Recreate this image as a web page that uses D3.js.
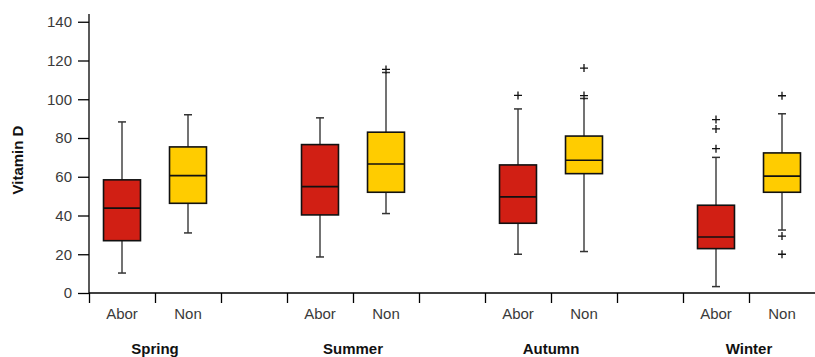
<!DOCTYPE html>
<html>
<head>
<meta charset="utf-8">
<script src="https://cdn.jsdelivr.net/npm/d3@7"></script>
<style>
  body { margin: 0; background: #fff; }
  text { font-family: "Liberation Sans", Arial, sans-serif; }
</style>
</head>
<body>
<svg id="chart"></svg>
<script>
// data
const seasons = ['Spring', 'Summer', 'Autumn', 'Winter'];
const groups = ['Abor', 'Non'];
const whiskerLow  = [10.3, 31, 18.6, 41, 20, 21.4, 3.3, 32.5];
const q1Values    = [27, 46.3, 40.3, 52, 36, 61.6, 22.9, 52];
const medians     = [43.8, 60.6, 54.9, 66.6, 49.6, 68.5, 28.9, 60.3];
const q3Values    = [58.4, 75.4, 76.6, 83, 66.1, 81, 45.3, 72.3];
const whiskerHigh = [88.3, 92, 90.4, 113.8, 95, 100.4, 70, 92.5];
const outliers    = [[], [], [], [115.4], [102], [101.9, 116.1], [74.5, 84.7, 89.5], [101.8, 29.4, 20]];
const yTicks = [0, 20, 40, 60, 80, 100, 120, 140];

const width = 815, height = 357;
const margin = { top: 14, right: 0, bottom: 64, left: 89 };
const colors = { Abor: '#D11F14', Non: '#FFCC00' };

const svg = d3.select('#chart')
    .attr('width', width)
    .attr('height', height);

// 11 slots: two boxes per season and an empty slot between seasons
const nSlots = seasons.length * 3 - 1;
const x = d3.scaleLinear()
    .domain([0, nSlots])
    .range([margin.left, width - margin.right]);

const y = d3.scaleLinear()
    .domain([0, 144])
    .range([height - margin.bottom, margin.top]);

const slotW = x(1) - x(0);
const boxW = slotW * 0.56;
const capW = 8;

// build rows
const rows = [];
seasons.forEach((s, si) => {
    groups.forEach((g, gi) => {
        const i = si * 2 + gi;
        rows.push({
            season: s, group: g, slot: si * 3 + gi,
            lo: whiskerLow[i], q1: q1Values[i], med: medians[i],
            q3: q3Values[i], hi: whiskerHigh[i], out: outliers[i]
        });
    });
});

// y axis
const yAxis = d3.axisLeft(y)
    .tickValues(yTicks)
    .tickSize(11)
    .tickPadding(6);

const yAxisG = svg.append('g')
    .attr('transform', `translate(${margin.left},0)`)
    .call(yAxis);
yAxisG.select('.domain').remove();
yAxisG.selectAll('line').attr('stroke', '#000').attr('stroke-width', 1.3);
yAxisG.selectAll('text')
    .attr('fill', '#3a3a3a')
    .style('font-size', '15px');

svg.append('line')
    .attr('x1', margin.left).attr('x2', margin.left)
    .attr('y1', y(144)).attr('y2', y(0))
    .attr('stroke', '#000').attr('stroke-width', 1.3);

// x axis with ticks at slot boundaries
const xAxis = d3.axisBottom(x)
    .tickValues(d3.range(0, nSlots))
    .tickSize(10)
    .tickFormat('');

const xAxisG = svg.append('g')
    .attr('transform', `translate(0,${y(0)})`)
    .call(xAxis);
xAxisG.select('.domain').attr('d', `M${margin.left},0H${width}`).attr('stroke-width', 1.3);
xAxisG.selectAll('line').attr('stroke', '#000').attr('stroke-width', 1.3);

// group labels
svg.append('g').selectAll('text')
    .data(rows)
    .join('text')
    .attr('x', d => x(d.slot + 0.5))
    .attr('y', y(0) + 26)
    .attr('text-anchor', 'middle')
    .attr('fill', '#3a3a3a')
    .style('font-size', '15px')
    .text(d => d.group);

// season labels, centred between the two boxes
svg.append('g').selectAll('text')
    .data(seasons)
    .join('text')
    .attr('x', (d, i) => x(i * 3 + 1))
    .attr('y', y(0) + 61)
    .attr('text-anchor', 'middle')
    .attr('fill', '#111')
    .style('font-size', '15px')
    .style('font-weight', 'bold')
    .text(d => d);

// y label
svg.append('text')
    .attr('transform', `translate(23,160) rotate(-90)`)
    .attr('text-anchor', 'middle')
    .attr('fill', '#111')
    .style('font-size', '15px')
    .style('font-weight', 'bold')
    .text('Vitamin D');

// boxes
const box = svg.append('g').selectAll('g')
    .data(rows)
    .join('g')
    .attr('transform', d => `translate(${x(d.slot + 0.5)},0)`);

box.append('line')
    .attr('y1', d => y(d.lo)).attr('y2', d => y(d.hi))
    .attr('stroke', '#444').attr('stroke-width', 1.5);

box.selectAll('.cap')
    .data(d => [d.lo, d.hi])
    .join('line')
    .attr('class', 'cap')
    .attr('x1', -capW / 2).attr('x2', capW / 2)
    .attr('y1', v => y(v)).attr('y2', v => y(v))
    .attr('stroke', '#333').attr('stroke-width', 1.5);

box.append('rect')
    .attr('x', -boxW / 2)
    .attr('width', boxW)
    .attr('y', d => y(d.q3))
    .attr('height', d => y(d.q1) - y(d.q3))
    .attr('fill', d => colors[d.group])
    .attr('stroke', '#111')
    .attr('stroke-width', 1.6);

box.append('line')
    .attr('x1', -boxW / 2).attr('x2', boxW / 2)
    .attr('y1', d => y(d.med)).attr('y2', d => y(d.med))
    .attr('stroke', '#111').attr('stroke-width', 1.6);

// outliers as plus signs
box.selectAll('.out')
    .data(d => d.out)
    .join('path')
    .attr('class', 'out')
    .attr('d', 'M-4,0H4M0,-4V4')
    .attr('transform', v => `translate(0,${y(v)})`)
    .attr('stroke', '#111')
    .attr('stroke-width', 1.3)
    .attr('fill', 'none');
</script>
</body>
</html>
